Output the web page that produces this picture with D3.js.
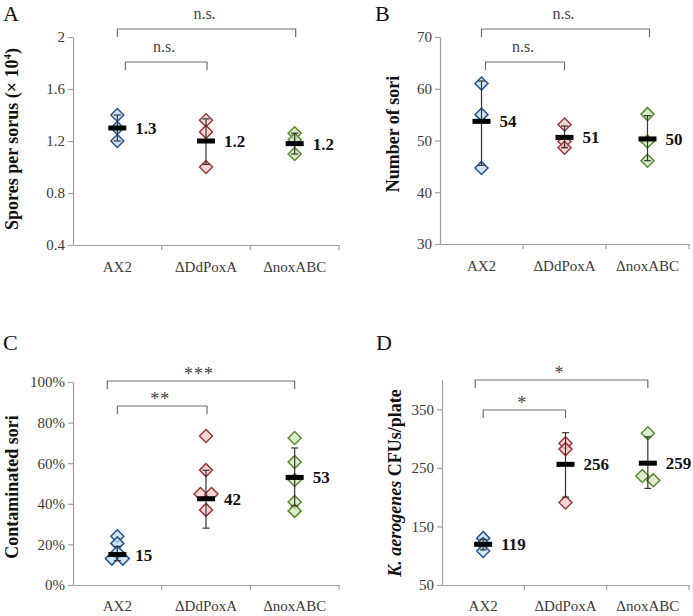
<!DOCTYPE html>
<html>
<head>
<meta charset="utf-8">
<script src="https://cdn.jsdelivr.net/npm/d3@7"></script>
<style>
  html, body { margin: 0; padding: 0; background: #fff; }
  svg { display: block; }
  text { font-family: "Liberation Serif", "Times New Roman", serif; }
</style>
</head>
<body>
<svg id="chart" width="693" height="616"></svg>
<script>
// ---------- DATA ----------
const categories = ["AX2", "\u0394DdPoxA", "\u0394noxABC"];

// Panel A: spores per sorus (x 10^4)
const sporesPoints   = [[1.4, 1.3, 1.2], [1.36, 1.27, 1.0], [1.26, 1.21, 1.1]];
const sporesMeans    = [1.3, 1.2, 1.18];
const sporesErrLow   = [1.2, 1.02, 1.1];
const sporesErrHigh  = [1.4, 1.37, 1.26];
const sporesLabels   = ["1.3", "1.2", "1.2"];
const sporesTicks    = [0.4, 0.8, 1.2, 1.6, 2];
const sporesSig      = ["n.s.", "n.s."];

// Panel B: number of sori
const soriPoints     = [[61, 55, 44.7], [53.1, 49.8, 48.6], [55.1, 49.8, 46.1]];
const soriMeans      = [53.7, 50.6, 50.3];
const soriErrLow     = [45.2, 48.6, 46.1];
const soriErrHigh    = [61.5, 52.8, 54.8];
const soriLabels     = ["54", "51", "50"];
const soriTicks      = [30, 40, 50, 60, 70];
const soriSig        = ["n.s.", "n.s."];

// Panel C: contaminated sori (%)
const contamPoints   = [[24, 20.5, 16, 13, 13], [73.4, 56.6, 44.8, 44.8, 37], [72.4, 60.6, 51.7, 40.9, 36.5]];
const contamMeans    = [15, 42.5, 53];
const contamErrLow   = [12, 28, 39];
const contamErrHigh  = [19, 56.5, 67.5];
const contamLabels   = ["15", "42", "53"];
const contamTicks    = [0, 20, 40, 60, 80, 100];
const contamSig      = ["***", "**"];

// Panel D: K. aerogenes CFUs/plate
const cfuPoints      = [[130, 120, 108], [292, 282, 191], [309, 236, 229]];
const cfuMeans       = [119.5, 256, 258];
const cfuErrLow      = [110, 200, 215];
const cfuErrHigh     = [128, 310, 303];
const cfuLabels      = ["119", "256", "259"];
const cfuTicks       = [50, 150, 250, 350];
const cfuSig         = ["*", "*"];

// ---------- STYLE ----------
const strokeColors = ["#25558c", "#9e3a38", "#5b8a2e"];
const fillColors   = ["#c6dcf0", "#f3c9c9", "#d0e5bd"];
const axisColor = "#a0a0a0";
const bracketColor = "#707070";
const tickTextColor = "#3a3a3a";

const svg = d3.select("#chart");

const panels = [
  { letter: "A", letterPos: [3, 21], points: sporesPoints, means: sporesMeans, lo: sporesErrLow, hi: sporesErrHigh,
    labels: sporesLabels, ticks: sporesTicks, domain: [0.4, 2], fmt: d => d3.format("")(d), sig: sporesSig,
    x0: 73, x1: 339, yTop: 37, yBot: 245, catY: 16,
    title: [{t: "Spores per sorus (\u00d7 10"}, {t: "4", sup: true}, {t: ")"}], titleX: 18, titleY: 139,
    brackets: [{a: 0, b: 2, y: 29, oa: 0, ob: 1, lab: 0}, {a: 0, b: 1, y: 62, oa: 8, ob: 1, lab: 1}],
    sigStyle: "ns" },
  { letter: "B", letterPos: [375, 21], points: soriPoints, means: soriMeans, lo: soriErrLow, hi: soriErrHigh,
    labels: soriLabels, ticks: soriTicks, domain: [30, 70], fmt: d => d, sig: soriSig,
    x0: 440, x1: 689, yTop: 37, yBot: 244, catY: 16,
    title: [{t: "Number of sori"}], titleX: 399, titleY: 134,
    brackets: [{a: 0, b: 2, y: 29, oa: 0, ob: 2, lab: 0}, {a: 0, b: 1, y: 62, oa: 4, ob: 0, lab: 1}],
    sigStyle: "ns" },
  { letter: "C", letterPos: [3, 350], points: contamPoints, means: contamMeans, lo: contamErrLow, hi: contamErrHigh,
    labels: contamLabels, ticks: contamTicks, domain: [0, 100], fmt: d => d + "%", sig: contamSig,
    x0: 73, x1: 339, yTop: 382, yBot: 585, catY: 15,
    title: [{t: "Contaminated sori"}], titleX: 18, titleY: 487,
    brackets: [{a: 0, b: 2, y: 381, oa: -10, ob: 0, lab: 0}, {a: 0, b: 1, y: 406, oa: 0, ob: 1, lab: 1}],
    sigStyle: "star" },
  { letter: "D", letterPos: [376, 350], points: cfuPoints, means: cfuMeans, lo: cfuErrLow, hi: cfuErrHigh,
    labels: cfuLabels, ticks: cfuTicks, domain: [50, 400], fmt: d => d, sig: cfuSig,
    x0: 442, x1: 689, yTop: 380, yBot: 585, catY: 15,
    title: [{t: "K. aerogenes", it: true}, {t: " CFUs/plate"}], titleX: 401, titleY: 483,
    brackets: [{a: 0, b: 2, y: 380, oa: -8, ob: 0, lab: 0}, {a: 0, b: 1, y: 410, oa: 0, ob: 0, lab: 1}],
    sigStyle: "star" }
];

const dw = 6.5, dh = 6.5;
const diamond = `M0,${-dh}L${dw},0L0,${dh}L${-dw},0Z`;

panels.forEach(p => {
  const g = svg.append("g");
  const x = d3.scaleBand().domain(categories).range([p.x0, p.x1]).paddingInner(0).paddingOuter(0);
  const y = d3.scaleLinear().domain(p.domain).range([p.yBot, p.yTop]);
  const cx = c => x(c) + x.bandwidth() / 2;

  // y axis
  const ya = g.append("g").attr("transform", `translate(${p.x0},0)`)
    .call(d3.axisLeft(y).tickValues(p.ticks).tickFormat(p.fmt).tickSize(5).tickSizeOuter(0).tickPadding(3));
  ya.select(".domain").attr("stroke", axisColor).attr("stroke-width", 1.2);
  ya.selectAll(".tick line").attr("stroke", axisColor).attr("stroke-width", 1.2);
  ya.selectAll(".tick text").attr("fill", tickTextColor).style("font-size", "15px")
    .style("font-family", "'Liberation Serif', serif");

  // x axis (labels at band centers)
  const xa = g.append("g").attr("transform", `translate(0,${p.yBot})`)
    .call(d3.axisBottom(x).tickSize(0).tickSizeOuter(0).tickPadding(p.catY));
  xa.select(".domain").attr("stroke", axisColor).attr("stroke-width", 1.2);
  xa.selectAll(".tick text").attr("fill", tickTextColor).style("font-size", "15px")
    .style("font-family", "'Liberation Serif', serif");
  // band boundary ticks
  g.selectAll(".btick").data(categories).join("line")
    .attr("x1", c => x(c) + x.bandwidth()).attr("x2", c => x(c) + x.bandwidth())
    .attr("y1", p.yBot).attr("y2", p.yBot + 5)
    .attr("stroke", axisColor).attr("stroke-width", 1.2);

  // panel letter
  g.append("text").attr("x", p.letterPos[0]).attr("y", p.letterPos[1])
    .style("font-size", "22px").attr("fill", "#111").text(p.letter);

  // y title
  const tt = g.append("text")
    .attr("transform", `translate(${p.titleX},${p.titleY}) rotate(-90)`)
    .attr("text-anchor", "middle").style("font-size", "18px").style("font-weight", "bold").attr("fill", "#111");
  p.title.forEach((s, i) => {
    const ts = tt.append("tspan").text(s.t);
    if (s.it) ts.style("font-style", "italic");
    if (s.sup) ts.style("font-size", "11px").attr("dy", "-7");
    else if (i > 0 && p.title[i - 1].sup) ts.attr("dy", "7");
  });

  // brackets
  p.brackets.forEach(b => {
    const xa1 = cx(categories[b.a]) + b.oa, xb1 = cx(categories[b.b]) + b.ob;
    g.append("path")
      .attr("d", `M${xa1},${b.y + 8}L${xa1},${b.y}L${xb1},${b.y}L${xb1},${b.y + 8}`)
      .attr("fill", "none").attr("stroke", bracketColor).attr("stroke-width", 1.2);
    const isStar = p.sigStyle === "star";
    g.append("text").attr("x", (xa1 + xb1) / 2 - 2).attr("y", isStar ? b.y - 1 : b.y - 10)
      .attr("text-anchor", "middle").attr("fill", "#444")
      .style("font-size", isStar ? "18px" : "16px")
      .style("letter-spacing", isStar ? "1px" : "0px")
      .text(p.sig[b.lab]);
  });

  // groups
  categories.forEach((c, i) => {
    const gx = cx(c);
    // simple dodge for overlapping points
    const pts = p.points[i].map(v => ({v, py: y(v)}));
    pts.forEach((pt, j) => {
      pt.dx = 0;
      if (j > 0 && Math.abs(pt.py - pts[j - 1].py) < 5) {
        pts[j - 1].dx = -5.5; pt.dx = 5.5;
      }
    });
    g.selectAll(null).data(pts).join("path")
      .attr("d", diamond)
      .attr("transform", d => `translate(${gx + d.dx},${d.py})`)
      .attr("fill", fillColors[i]).attr("fill-opacity", 0.75)
      .attr("stroke", strokeColors[i]).attr("stroke-width", 1.5);

    // error bar
    const yl = y(p.lo[i]), yh = y(p.hi[i]);
    g.append("line").attr("x1", gx).attr("x2", gx).attr("y1", yl).attr("y2", yh)
      .attr("stroke", "#333").attr("stroke-width", 1.2);
    [yl, yh].forEach(yy => g.append("line").attr("x1", gx - 3.5).attr("x2", gx + 3.5)
      .attr("y1", yy).attr("y2", yy).attr("stroke", "#333").attr("stroke-width", 1.2));

    // mean bar
    const ym = y(p.means[i]);
    g.append("rect").attr("x", gx - 9).attr("y", ym - 2.5).attr("width", 18).attr("height", 5).attr("fill", "#000");
    g.append("text").attr("x", gx + 18).attr("y", ym).attr("dy", "0.35em")
      .style("font-size", "17px").style("font-weight", "bold").attr("fill", "#111")
      .text(p.labels[i]);
  });
});
</script>
</body>
</html>
